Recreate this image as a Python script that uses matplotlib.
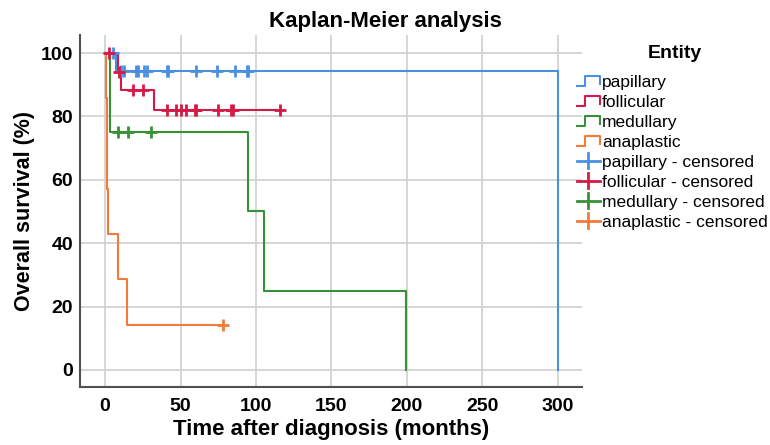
import matplotlib
matplotlib.use('Agg')
import matplotlib.pyplot as plt
from matplotlib.legend_handler import HandlerBase
from matplotlib.lines import Line2D
import numpy as np

plt.rcParams['font.family'] = ['Liberation Sans', 'DejaVu Sans']

# survival curves (time in months, survival in %)
pap_t = [0, 7, 300]
pap_s = [100, 94.4, 0]
pap_cens = [5.5, 10.5, 12.5, 20.5, 21.5, 26, 28, 41, 42, 60, 74, 86, 94, 95]

fol_t = [0, 8.4, 10.6, 32.5, 116]
fol_s = [100, 94.1, 88.2, 82.0, 82.0]
fol_cens = [2.7, 9.5, 18.8, 25.4, 41.3, 47, 50.4, 53.7, 59.5, 60.5, 75, 83.5, 84.5, 116]

med_t = [0, 3.3, 94.4, 105.4, 199.6]
med_s = [100, 75, 50, 25, 0]
med_cens = [8.4, 15, 30.5]

ana_t = [0, 0.5, 1.0, 1.5, 2.0, 8.8, 14.4, 78]
ana_s = [100, 85.7, 71.4, 57.1, 42.9, 28.6, 14.3, 14.3]
ana_cens = [78]

names = ['papillary', 'follicular', 'medullary', 'anaplastic']
colors = ['#4a8fe0', '#d41a46', '#369236', '#f47a3a']
series = [(pap_t, pap_s, pap_cens), (fol_t, fol_s, fol_cens),
          (med_t, med_s, med_cens), (ana_t, ana_s, ana_cens)]


def surv_at(t, s, x):
    i = np.searchsorted(t, x, side='right') - 1
    return np.array(s)[i]


class StepHandler(HandlerBase):
    def create_artists(self, legend, orig_handle, xdescent, ydescent,
                       width, height, fontsize, trans):
        x0 = -xdescent
        y0 = -ydescent
        xs = [x0, x0 + 0.35 * width, x0 + 0.35 * width, x0 + width, x0 + width]
        ys = [y0 + 0.1 * height, y0 + 0.1 * height, y0 + 0.9 * height,
              y0 + 0.9 * height, y0 + 0.2 * height]
        return [Line2D(xs, ys, color=orig_handle.get_color(), lw=1.5, transform=trans)]


class CrossHandler(HandlerBase):
    def create_artists(self, legend, orig_handle, xdescent, ydescent,
                       width, height, fontsize, trans):
        x0 = -xdescent
        y0 = -ydescent
        col = orig_handle.get_color()
        h = Line2D([x0, x0 + width], [y0 + 0.5 * height] * 2, color=col, lw=2, transform=trans)
        v = Line2D([x0 + 0.5 * width] * 2, [y0 - 0.1 * height, y0 + 1.1 * height],
                   color=col, lw=2, transform=trans)
        return [h, v]


fig = plt.figure(figsize=(7.7, 4.45), dpi=100)
ax = fig.add_axes([0.1039, 0.1303, 0.652, 0.791])

step_handles = []
cens_handles = []
for (t, s, c), col, nm in zip(series, colors, names):
    h, = ax.step(t, s, where='post', color=col, lw=1.5, label=nm)
    step_handles.append(h)
for (t, s, c), col, nm in zip(series, colors, names):
    h, = ax.plot(c, surv_at(t, s, c), '+', color=col, ms=8, mew=2,
                 label=nm + ' - censored')
    cens_handles.append(h)

ax.set_xlim(-16.6, 316)
ax.set_ylim(-5.4, 105.7)
ax.set_xticks(np.arange(0, 301, 50))
ax.set_yticks(np.arange(0, 101, 20))
ax.grid(True, color='#d0d0d0', lw=1.2)
ax.set_axisbelow(True)
for sp in ['top', 'right']:
    ax.spines[sp].set_visible(False)
for sp in ['left', 'bottom']:
    ax.spines[sp].set_color('#505050')
    ax.spines[sp].set_linewidth(1.5)
ax.tick_params(length=0, labelsize=14)
ax.tick_params(axis='x', pad=8)
ax.tick_params(axis='y', pad=5)
for lab in ax.get_xticklabels() + ax.get_yticklabels():
    lab.set_fontweight('bold')

ax.set_xlabel('Time after diagnosis (months)', fontsize=16, fontweight='bold', labelpad=3)
ax.set_ylabel('Overall survival (%)', fontsize=15.5, fontweight='bold', labelpad=4)
fig.suptitle('Kaplan-Meier analysis', fontsize=16, fontweight='bold', x=0.5, y=0.975)

# legend title drawn separately so its gap to the entries matches
fig.text(0.877, 1 - 53 / 445, 'Entity', ha='center', va='center',
         fontsize=14, fontweight='bold')

handler_map = {h: StepHandler() for h in step_handles}
handler_map.update({h: CrossHandler() for h in cens_handles})
leg = fig.legend(step_handles + cens_handles,
                 [h.get_label() for h in step_handles + cens_handles],
                 loc='upper left', bbox_to_anchor=(0.729, 0.8675),
                 frameon=False, fontsize=12.5,
                 handler_map=handler_map, handlelength=1.3, handletextpad=0.15,
                 labelspacing=0.28)

fig.savefig('out.png', dpi=100)
